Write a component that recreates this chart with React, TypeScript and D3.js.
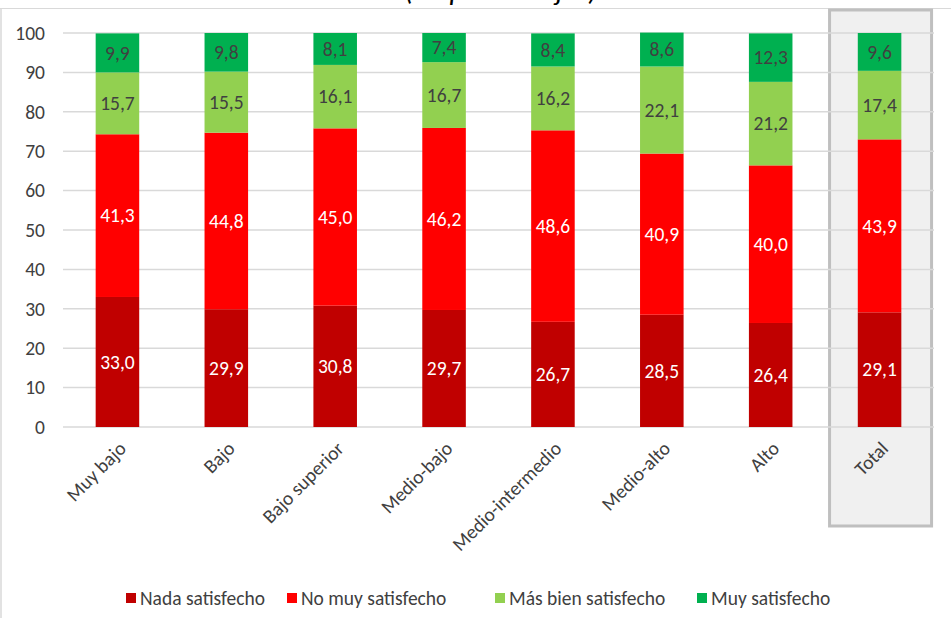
import React from "react";
import * as d3 from "d3";

const categories = ["Muy bajo", "Bajo", "Bajo superior", "Medio-bajo", "Medio-intermedio", "Medio-alto", "Alto", "Total"];
const nadaSatisfecho = [33.0, 29.9, 30.8, 29.7, 26.7, 28.5, 26.4, 29.1];
const noMuySatisfecho = [41.3, 44.8, 45.0, 46.2, 48.6, 40.9, 40.0, 43.9];
const masBienSatisfecho = [15.7, 15.5, 16.1, 16.7, 16.2, 22.1, 21.2, 17.4];
const muySatisfecho = [9.9, 9.8, 8.1, 7.4, 8.4, 8.6, 12.3, 9.6];
const seriesNames = ["Nada satisfecho", "No muy satisfecho", "Más bien satisfecho", "Muy satisfecho"];
const yTicks = [0, 10, 20, 30, 40, 50, 60, 70, 80, 90, 100];
const title = "(en porcentajes)";

const colors = ["#c00000", "#ff0000", "#92d050", "#00b050"];
const labelColors = ["#ffffff", "#ffffff", "#404040", "#404040"];
const legendX = [126, 287, 495, 697];

const W = 951;
const H = 618;
const FONT = "Carlito, Calibri, 'Open Sans', sans-serif";
const FS = 19.5;

export default function App() {
  const x = d3.scaleBand<string>().domain(categories).range([63, 934]).paddingInner(0.6).paddingOuter(0.3);
  const y = d3.scaleLinear().domain([0, 100]).range([427, 33]);

  const rows = categories.map((c, i) => ({
    cat: c,
    s0: nadaSatisfecho[i],
    s1: noMuySatisfecho[i],
    s2: masBienSatisfecho[i],
    s3: muySatisfecho[i],
  }));
  const stack = d3.stack<any>().keys(["s0", "s1", "s2", "s3"]);
  const layers = stack(rows);
  const fmt = (v: number) => v.toFixed(1).replace(".", ",");

  const totalCx = x("Total")! + x.bandwidth() / 2;

  return (
    <svg width={W} height={H} style={{ position: "absolute", left: 0, top: 0, fontFamily: FONT }}>
      <rect x={0} y={0} width={W} height={H} fill="#ffffff" />
      {/* chart frame */}
      <line x1={0} x2={W} y1={8.5} y2={8.5} stroke="#d9d9d9" strokeWidth={1} />
      <line x1={1} x2={1} y1={8} y2={H} stroke="#d9d9d9" strokeWidth={1.5} />
      {/* title (cut off at the top, as in the source) */}
      <text x={501} y={-0.5} textAnchor="middle" fontSize={29.5} fontStyle="italic" fill="#000000">{title}</text>
      {/* total highlight box */}
      <rect
        x={totalCx - 50}
        y={10}
        width={102}
        height={516}
        fill="#f0f0f0"
        stroke="#bfbfbf"
        strokeWidth={3}
      />
      {/* gridlines */}
      {yTicks.map((t) => (
        <line key={t} x1={63} x2={934} y1={y(t)} y2={y(t)} stroke="#d9d9d9" strokeWidth={1.5} />
      ))}
      {/* y tick labels */}
      {yTicks.map((t) => (
        <text key={"l" + t} x={45} y={y(t)} dy="0.35em" textAnchor="end" fontSize={FS} fill="#404040">
          {t}
        </text>
      ))}
      {/* bars */}
      {layers.map((layer, li) => (
        <g key={li}>
          {layer.map((d, i) => (
            <rect
              key={i}
              x={x(categories[i])!}
              y={y(d[1])}
              width={x.bandwidth()}
              height={y(d[0]) - y(d[1])}
              fill={colors[li]}
            />
          ))}
          {layer.map((d, i) => (
            <text
              key={"t" + i}
              x={x(categories[i])! + x.bandwidth() / 2}
              y={(y(d[0]) + y(d[1])) / 2}
              dy="0.35em"
              textAnchor="middle"
              fontSize={FS}
              fill={labelColors[li]}
            >
              {fmt(d[1] - d[0])}
            </text>
          ))}
        </g>
      ))}
      {/* x labels */}
      {categories.map((c) => {
        const cx = x(c)! + x.bandwidth() / 2 + 5;
        return (
          <text
            key={c}
            transform={`translate(${cx},${445}) rotate(-45)`}
            textAnchor="end"
            dy="0.35em"
            fontSize={FS}
            fill="#404040"
          >
            {c}
          </text>
        );
      })}
      {/* legend */}
      {seriesNames.map((s, i) => (
        <g key={s} transform={`translate(${legendX[i]},${598})`}>
          <rect x={0} y={-5} width={10} height={10} fill={colors[i]} />
          <text x={14} y={0} dy="0.35em" fontSize={FS} fill="#404040">
            {s}
          </text>
        </g>
      ))}
    </svg>
  );
}
